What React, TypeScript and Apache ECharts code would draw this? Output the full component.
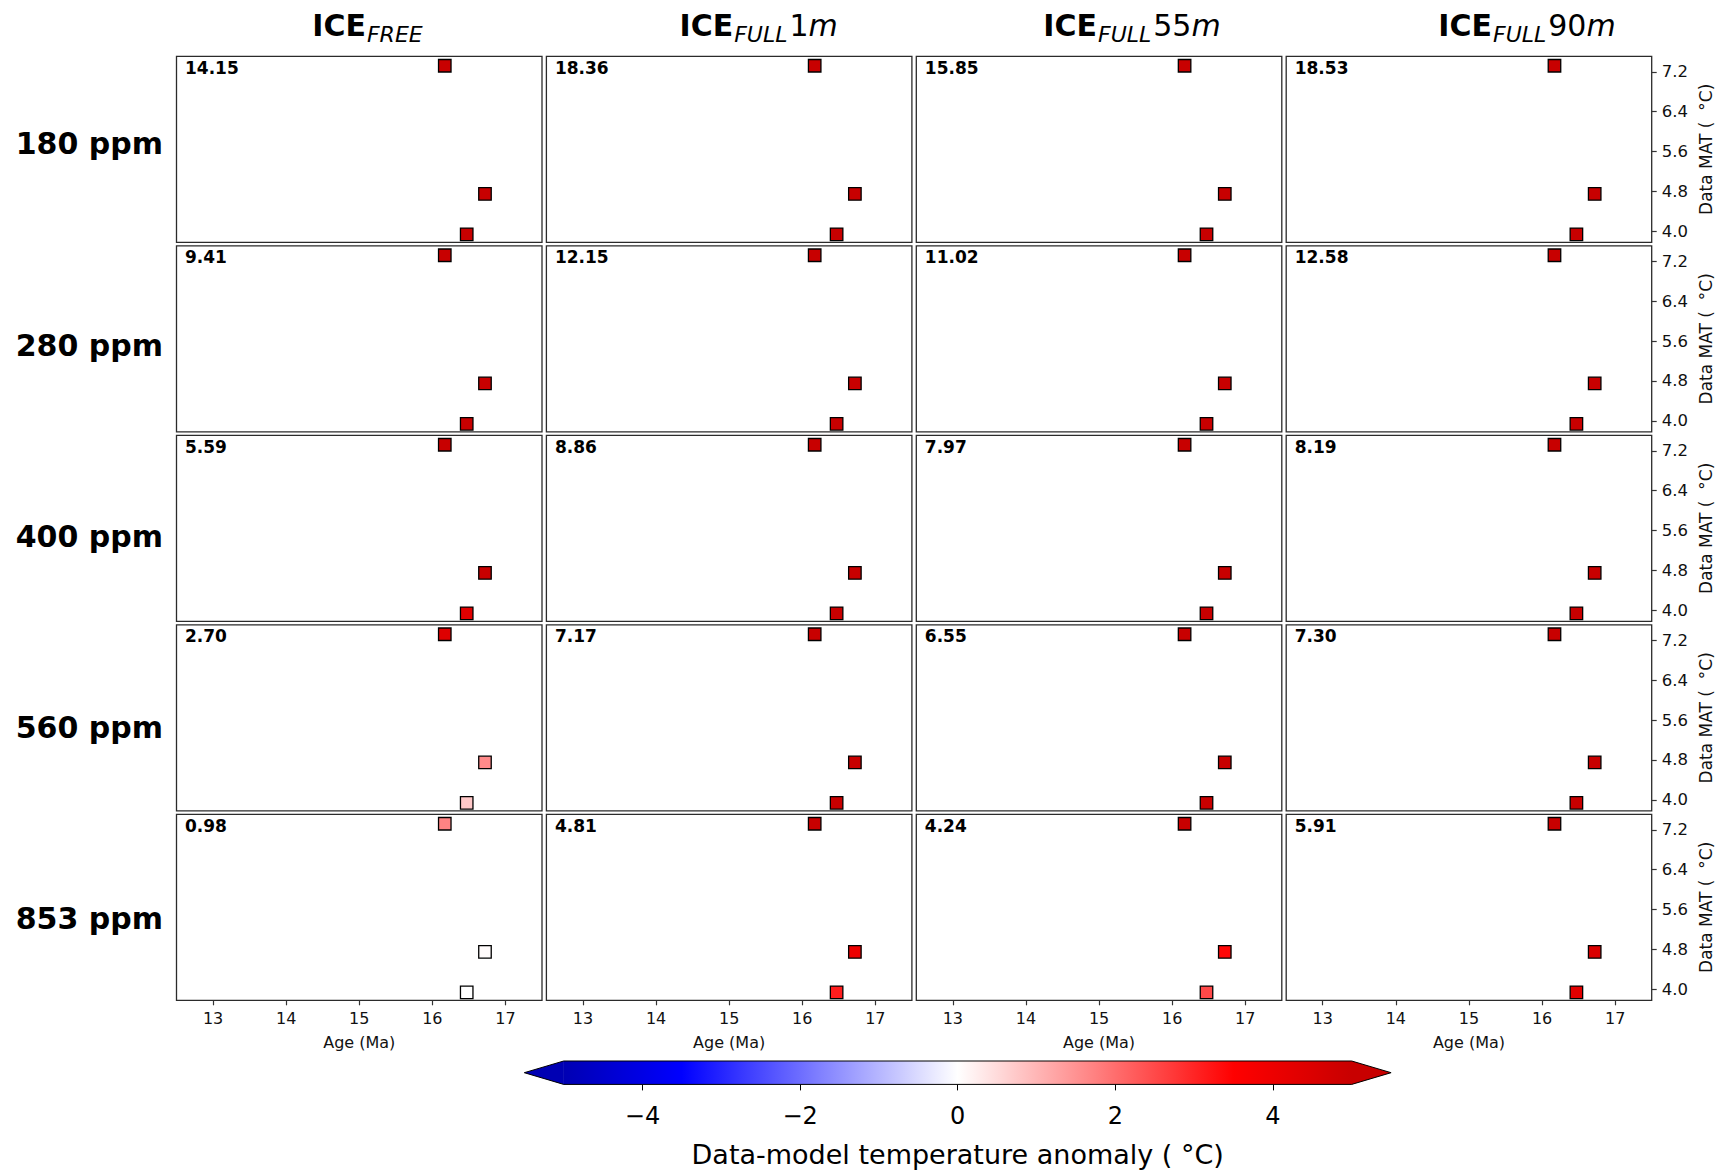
import React, { useEffect, useRef } from "react";
import * as echarts from "echarts";

// ---------------- data ----------------
const columnMain = ["ICE", "ICE", "ICE", "ICE"];
const columnSub = ["FREE", "FULL", "FULL", "FULL"];
const columnDepth = ["", "1", "55", "90"];
const columnUnit = ["", "m", "m", "m"];
const rowLabels = ["180 ppm", "280 ppm", "400 ppm", "560 ppm", "853 ppm"];

// proxy sites: age (Ma) and data MAT (°C)
const siteAge = [16.17, 16.72, 16.47];
const siteMAT = [7.32, 4.75, 3.94];

// panel scores (per CO2 row)
const scoreIceFree = [14.15, 9.41, 5.59, 2.7, 0.98];
const scoreFull1m = [18.36, 12.15, 8.86, 7.17, 4.81];
const scoreFull55m = [15.85, 11.02, 7.97, 6.55, 4.24];
const scoreFull90m = [18.53, 12.58, 8.19, 7.3, 5.91];

// data-model anomaly per site (rows = CO2 levels)
const anomIceFree = [
  [16.0, 13.6, 12.7],
  [11.3, 8.8, 7.9],
  [7.0, 5.1, 4.3],
  [4.4, 1.6, 0.75],
  [1.7, 0.05, 0.0],
];
const anomFull1m = [
  [20.3, 17.6, 17.0],
  [14.0, 11.4, 10.8],
  [10.6, 8.1, 7.6],
  [8.9, 6.4, 5.9],
  [6.6, 4.0, 3.1],
];
const anomFull55m = [
  [17.8, 15.1, 14.5],
  [12.9, 10.3, 9.7],
  [9.8, 7.2, 6.6],
  [8.3, 5.8, 5.3],
  [6.0, 3.4, 2.5],
];
const anomFull90m = [
  [20.5, 17.8, 17.1],
  [14.5, 11.8, 11.2],
  [10.0, 7.4, 6.9],
  [9.1, 6.5, 6.0],
  [8.0, 4.5, 4.3],
];

const ageTicks = [13, 14, 15, 16, 17];
const matTicks = [4.0, 4.8, 5.6, 6.4, 7.2];
const cbarTicks = [-4, -2, 0, 2, 4];
const cbarRange = [-5, 5];

const scores = [scoreIceFree, scoreFull1m, scoreFull55m, scoreFull90m];
const anomalies = [anomIceFree, anomFull1m, anomFull55m, anomFull90m];

// ---------------- layout ----------------
const FONT = "DejaVu Sans";
const L0 = 176.5;
const CSTEP = 369.9;
const PW = 365.5;
const T0 = 56.3;
const RSTEP = 189.5;
const PH = 186;
const XMIN = 12.5;
const XMAX = 17.5;
const YMIN = 3.78;
const YMAX = 7.51;
const TITLE_CENTER = [367.5, 758.6, 1132, 1527];
const ROW_LABEL_Y = [143, 345, 536, 727, 918];

function seismic(v: number): string {
  const c = Math.max(-5, Math.min(5, v));
  const t = (c + 7) / 14;
  const st = [
    [0, 0, 0, 0.3],
    [0.25, 0, 0, 1],
    [0.5, 1, 1, 1],
    [0.75, 1, 0, 0],
    [1, 0.5, 0, 0],
  ];
  for (let i = 0; i < st.length - 1; i++) {
    const a = st[i];
    const b = st[i + 1];
    if (t <= b[0]) {
      const u = (t - a[0]) / (b[0] - a[0]);
      const r = a[1] + (b[1] - a[1]) * u;
      const g = a[2] + (b[2] - a[2]) * u;
      const bl = a[3] + (b[3] - a[3]) * u;
      return `rgb(${Math.round(r * 255)},${Math.round(g * 255)},${Math.round(bl * 255)})`;
    }
  }
  return "rgb(128,0,0)";
}

let measureCtx: CanvasRenderingContext2D | null = null;
function measure(text: string, font: string): number {
  if (!measureCtx) measureCtx = document.createElement("canvas").getContext("2d");
  if (!measureCtx) return text.length * 10;
  measureCtx.font = font;
  return measureCtx.measureText(text).width;
}

function textEl(x: number, y: number, text: string, size: number, weight: string, style: string, align: string) {
  return {
    type: "text",
    x,
    y,
    silent: true,
    z: 10,
    style: {
      text,
      fontFamily: FONT,
      fontSize: size,
      fontWeight: weight,
      fontStyle: style,
      fill: "#000",
      align,
      verticalAlign: "middle",
      textAlign: align,
      textVerticalAlign: "middle",
    },
  };
}

function buildOption() {
  const grid: any[] = [];
  const xAxis: any[] = [];
  const yAxis: any[] = [];
  const series: any[] = [];
  const graphic: any[] = [];

  for (let r = 0; r < 5; r++) {
    for (let c = 0; c < 4; c++) {
      const idx = grid.length;
      const left = L0 + c * CSTEP;
      const top = T0 + r * RSTEP;
      grid.push({
        left,
        top,
        width: PW,
        height: PH,
        show: true,
        backgroundColor: "#fff",
        borderColor: "#2b2b2b",
        borderWidth: 1.3,
      });
      const bottomRow = r === 4;
      const rightCol = c === 3;
      xAxis.push({
        gridIndex: idx,
        type: "value",
        min: XMIN,
        max: XMAX,
        splitLine: { show: false },
        axisLine: { show: false, onZero: false },
        axisTick: {
          show: bottomRow,
          inside: false,
          length: 5,
          lineStyle: { color: "#333", width: 1.2 },
          customValues: ageTicks,
        },
        axisLabel: {
          show: bottomRow,
          customValues: ageTicks,
          fontFamily: FONT,
          fontSize: 16,
          color: "#111",
          margin: 10,
        },
        name: bottomRow ? "Age (Ma)" : "",
        nameLocation: "middle",
        nameGap: 34,
        nameTextStyle: { fontFamily: FONT, fontSize: 16, color: "#111" },
      });
      yAxis.push({
        gridIndex: idx,
        type: "value",
        position: "right",
        min: YMIN,
        max: YMAX,
        splitLine: { show: false },
        axisLine: { show: false, onZero: false },
        axisTick: {
          show: rightCol,
          inside: false,
          length: 5,
          lineStyle: { color: "#333", width: 1.2 },
          customValues: matTicks,
        },
        axisLabel: {
          show: rightCol,
          customValues: matTicks,
          formatter: (v: number) => v.toFixed(1),
          fontFamily: FONT,
          fontSize: 16.5,
          color: "#111",
          margin: 10,
        },
        name: rightCol ? "Data MAT (  \u00B0C)" : "",
        nameLocation: "middle",
        nameRotate: 90,
        nameGap: 46,
        nameTextStyle: { fontFamily: FONT, fontSize: 17, color: "#111" },
      });
      const anom = anomalies[c][r];
      series.push({
        type: "scatter",
        xAxisIndex: idx,
        yAxisIndex: idx,
        symbol: "rect",
        symbolSize: 12.5,
        itemStyle: { borderColor: "#000", borderWidth: 1.3, opacity: 1 },
        data: siteAge.map((a, k) => ({
          value: [a, siteMAT[k]],
          itemStyle: { color: seismic(anom[k]) },
        })),
        silent: true,
      });
      graphic.push(
        textEl(left + 8.5, top + 11.5, scores[c][r].toFixed(2), 17, "bold", "normal", "left")
      );
    }
  }

  // colour bar
  const cbIdx = grid.length;
  grid.push({ left: 563.7, top: 1061, width: 788, height: 23.4, show: false });
  xAxis.push({
    gridIndex: cbIdx,
    type: "value",
    min: cbarRange[0],
    max: cbarRange[1],
    splitLine: { show: false },
    axisLine: { show: false, onZero: false },
    axisTick: {
      show: true,
      length: 6,
      inside: false,
      lineStyle: { color: "#000", width: 1 },
      customValues: cbarTicks,
    },
    axisLabel: {
      show: true,
      customValues: cbarTicks,
      formatter: (v: number) => (v < 0 ? "\u2212" + Math.abs(v) : String(v)),
      fontFamily: FONT,
      fontSize: 24,
      color: "#000",
      margin: 20,
    },
    name: "Data-model temperature anomaly ( \u00B0C)",
    nameLocation: "middle",
    nameGap: 57,
    nameTextStyle: { fontFamily: FONT, fontSize: 27, color: "#000" },
  });
  yAxis.push({ gridIndex: cbIdx, type: "value", min: 0, max: 1, show: false });

  const gradStops: any[] = [];
  for (let i = 0; i <= 40; i++) {
    const v = cbarRange[0] + ((cbarRange[1] - cbarRange[0]) * i) / 40;
    gradStops.push({ offset: i / 40, color: seismic(v) });
  }
  series.push({
    type: "custom",
    xAxisIndex: cbIdx,
    yAxisIndex: cbIdx,
    silent: true,
    clip: false,
    data: [[cbarRange[0], 0, cbarRange[1], 1]],
    encode: { x: [0, 2], y: [1, 3] },
    renderItem: (params: any, api: any) => {
      const a = api.coord([api.value(0), api.value(1)]);
      const b = api.coord([api.value(2), api.value(3)]);
      const x0 = a[0];
      const x1 = b[0];
      const yb = a[1];
      const yt = b[1];
      const ym = (yb + yt) / 2;
      const ext = 0.05 * (x1 - x0);
      return {
        type: "group",
        children: [
          {
            type: "rect",
            shape: { x: x0 - 0.5, y: yt, width: x1 - x0 + 1, height: yb - yt },
            style: { fill: new echarts.graphic.LinearGradient(0, 0, 1, 0, gradStops) },
          },
          {
            type: "polygon",
            shape: { points: [[x0, yt], [x0 - ext, ym], [x0, yb]] },
            style: { fill: seismic(api.value(0)) },
          },
          {
            type: "polygon",
            shape: { points: [[x1, yt], [x1 + ext, ym], [x1, yb]] },
            style: { fill: seismic(api.value(2)) },
          },
          {
            type: "polygon",
            shape: {
              points: [
                [x0 - ext, ym],
                [x0, yt],
                [x1, yt],
                [x1 + ext, ym],
                [x1, yb],
                [x0, yb],
              ],
            },
            style: { fill: "none", stroke: "#000", lineWidth: 1 },
          },
        ],
      };
    },
  });

  // column titles (mathtext-like: bold ICE, italic subscript, then depth)
  for (let c = 0; c < 4; c++) {
    const fMain = `bold 30px "${FONT}"`;
    const fSub = `italic 22px "${FONT}"`;
    const fNum = `30px "${FONT}"`;
    const fUnit = `italic 30px "${FONT}"`;
    const w1 = measure(columnMain[c], fMain);
    const w2 = measure(columnSub[c], fSub);
    const w3 = columnDepth[c] ? measure(columnDepth[c], fNum) : 0;
    const w4 = columnUnit[c] ? measure(columnUnit[c], fUnit) : 0;
    const gap = columnDepth[c] ? 2 : 0;
    const total = w1 + 1 + w2 + gap + w3 + w4;
    let x = TITLE_CENTER[c] - total / 2;
    graphic.push(textEl(x, 25.5, columnMain[c], 30, "bold", "normal", "left"));
    x += w1 + 1;
    graphic.push(textEl(x, 34, columnSub[c], 22, "normal", "italic", "left"));
    x += w2 + gap;
    if (columnDepth[c]) {
      graphic.push(textEl(x, 25.5, columnDepth[c], 30, "normal", "normal", "left"));
      x += w3;
      graphic.push(textEl(x, 25.5, columnUnit[c], 30, "normal", "italic", "left"));
    }
  }

  // row labels
  for (let r = 0; r < 5; r++) {
    graphic.push(textEl(163, ROW_LABEL_Y[r], rowLabels[r], 30, "bold", "normal", "right"));
  }

  return {
    animation: false,
    backgroundColor: "#fff",
    textStyle: { fontFamily: FONT },
    grid,
    xAxis,
    yAxis,
    series,
    graphic,
  };
}

export default function App() {
  const ref = useRef<HTMLDivElement>(null);
  useEffect(() => {
    if (!ref.current) return;
    const chart = echarts.init(ref.current, undefined, { renderer: "svg" });
    chart.setOption(buildOption() as any);
    return () => {
      chart.dispose();
    };
  }, []);
  return (
    <div
      ref={ref}
      style={{ position: "absolute", left: 0, top: 0, width: 1728, height: 1171, background: "#fff" }}
    />
  );
}
